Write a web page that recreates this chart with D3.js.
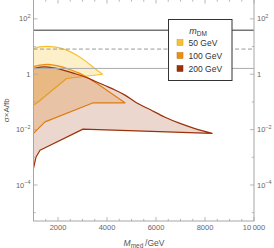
<!DOCTYPE html>
<html>
<head>
<meta charset="utf-8">
<script src="https://cdn.jsdelivr.net/npm/d3@7"></script>
<style>
  body { margin: 0; background: #fff; }
  text { font-family: "Liberation Sans", Arial, sans-serif; }
</style>
</head>
<body>
<div id="chart"></div>
<script>
// boundaries of the allowed regions: [M_med (GeV), sigma x A (fb)]
const upper50 = [[1000, 8.5], [1250, 9.7], [1550, 10.1], [1900, 9.5], [2300, 7.7], [2700, 5.3], [3100, 3.1], [3500, 1.6], [3820, 1.0]];
const lower50 = [[3820, 1.0], [2350, 0.7], [1150, 0.093], [1000, 0.077]];
const upper100 = [[1000, 1.88], [1265, 2.13], [1590, 2.26], [2000, 1.99], [2410, 1.55], [2820, 1.14], [3220, 0.75], [4735, 0.093]];
const lower100 = [[4735, 0.093], [3440, 0.093], [1470, 0.019], [1000, 0.0073]];
const upper200 = [[1000, 1.59], [1390, 1.85], [1880, 1.66], [2290, 1.35], [2690, 1.05], [3100, 0.79], [3510, 0.56], [3920, 0.39], [4330, 0.27], [4735, 0.176], [5220, 0.091], [5755, 0.053], [6370, 0.028], [6980, 0.0167], [7590, 0.0109], [8290, 0.0073]];
const lower200 = [[8290, 0.0073], [3020, 0.0104], [1265, 0.0018], [1100, 0.001], [1000, 0.0004]];

// horizontal limit lines
const limits = [39, 8.1, 1.62];

const mdmLabels = ["50 GeV", "100 GeV", "200 GeV"];
const xMajor = [2000, 4000, 6000, 8000, 10000];
const xMinor = [1500, 2500, 3000, 3500, 4500, 5000, 5500, 6500, 7000, 7500, 8500, 9000, 9500];
const yMajor = [1e2, 1, 1e-2, 1e-4];
const yMajorExp = ["2", "", "\u22122", "\u22124"];
const yMinor = [1e1, 1e-1, 1e-3, 1e-5];

const W = 274, H = 248;
const colors = ["#f6c232", "#ef8c12", "#9a3209"];
const fills = ["rgba(248,200,60,0.28)", "rgba(240,140,20,0.22)", "rgba(160,55,15,0.2)"];

const svg = d3.select("#chart").append("svg")
  .attr("width", W).attr("height", H);

const x = d3.scaleLinear().domain([1000, 10000]).range([33.5, 254]);
const y = d3.scaleLog().domain([5e-6, 500]).range([221, -0.5]);

svg.append("clipPath").attr("id", "clip")
  .append("rect")
  .attr("x", x(1000)).attr("y", y(500))
  .attr("width", x(10000) - x(1000)).attr("height", y(5e-6) - y(500));

const plot = svg.append("g").attr("clip-path", "url(#clip)");

// smooth upper curves, straight lower edges
const smooth = d3.line().x(d => x(d[0])).y(d => y(d[1])).curve(d3.curveCatmullRom);
const straight = d3.line().x(d => x(d[0])).y(d => y(d[1]));

function region(up, low) {
  return smooth(up) + straight(low).replace(/^M/, "L");
}

const regions = [[upper50, lower50], [upper100, lower100], [upper200, lower200]];
regions.forEach(function (r, i) {
  plot.append("path")
    .attr("d", region(r[0], r[1]))
    .attr("fill", fills[i])
    .attr("stroke", colors[i])
    .attr("stroke-width", 1.2)
    .attr("stroke-linejoin", "round");
});

// limit lines
plot.append("line")
  .attr("x1", x(1000)).attr("x2", x(10000))
  .attr("y1", y(limits[0])).attr("y2", y(limits[0]))
  .attr("stroke", "#333").attr("stroke-width", 1);
plot.append("line")
  .attr("x1", x(1000)).attr("x2", x(10000))
  .attr("y1", y(limits[1])).attr("y2", y(limits[1]))
  .attr("stroke", "#999").attr("stroke-width", 1)
  .attr("stroke-dasharray", "4,2.5");
plot.append("line")
  .attr("x1", x(1000)).attr("x2", x(10000))
  .attr("y1", y(limits[2])).attr("y2", y(limits[2]))
  .attr("stroke", "#aaa").attr("stroke-width", 1);

// frame
const frameColor = "#a6a6a6";
svg.append("rect")
  .attr("x", x(1000)).attr("y", y(500))
  .attr("width", x(10000) - x(1000)).attr("height", y(5e-6) - y(500))
  .attr("fill", "none").attr("stroke", frameColor).attr("stroke-width", 1);

const ticks = svg.append("g").attr("stroke", frameColor).attr("stroke-width", 0.8);
const x0 = x(1000), x1 = x(10000), y0 = y(5e-6), y1 = y(500);

function xTick(v, len) {
  ticks.append("line").attr("x1", x(v)).attr("x2", x(v)).attr("y1", y0).attr("y2", y0 - len);
  ticks.append("line").attr("x1", x(v)).attr("x2", x(v)).attr("y1", y1).attr("y2", y1 + len);
}
function yTick(v, len) {
  ticks.append("line").attr("x1", x0).attr("x2", x0 + len).attr("y1", y(v)).attr("y2", y(v));
  ticks.append("line").attr("x1", x1).attr("x2", x1 - len).attr("y1", y(v)).attr("y2", y(v));
}
xMajor.forEach(v => xTick(v, 4));
xMinor.forEach(v => xTick(v, 2.2));
yMajor.forEach(v => yTick(v, 4));
yMinor.forEach(v => yTick(v, 2.2));

// tick labels
const labelColor = "#666";
svg.append("g").selectAll("text").data(xMajor).join("text")
  .attr("x", d => x(d)).attr("y", 229.5)
  .attr("text-anchor", "middle")
  .attr("font-size", 7.5).attr("fill", labelColor)
  .text(d => d == 10000 ? "10\u2009000" : d);

function yLabel(g, v, e, px, anchor) {
  const t = g.append("text")
    .attr("x", px).attr("y", y(v) + 2.6)
    .attr("text-anchor", anchor)
    .attr("font-size", 7.5).attr("fill", labelColor);
  if (e === "") {
    t.text("1");
  } else {
    t.append("tspan").text("10");
    t.append("tspan").attr("dy", -3.5).attr("font-size", 5.5).text(e);
  }
}
const yl = svg.append("g");
yMajor.forEach(function (v, i) {
  yLabel(yl, v, yMajorExp[i], 30.5, "end");
  yLabel(yl, v, yMajorExp[i], 257, "start");
});

// axis titles
const xt = svg.append("text")
  .attr("x", 144).attr("y", 245.5)
  .attr("text-anchor", "middle")
  .attr("font-size", 8.5).attr("fill", "#555");
xt.append("tspan").attr("font-style", "italic").text("M");
xt.append("tspan").attr("font-size", 6.5).attr("dy", 2).text("med");
xt.append("tspan").attr("dy", -2).text("\u2009/GeV");

svg.append("text")
  .attr("transform", "translate(9," + ((y0 + y1) / 2) + ") rotate(-90)")
  .attr("text-anchor", "middle")
  .attr("font-size", 8).attr("fill", "#555")
  .text("\u03c3\u00d7A/fb");

// legend
const lg = svg.append("g");
lg.append("rect")
  .attr("x", 168.5).attr("y", 19.5)
  .attr("width", 63.5).attr("height", 61)
  .attr("fill", "#fff").attr("stroke", "#333").attr("stroke-width", 1);

const lt = lg.append("text")
  .attr("x", 198).attr("y", 34)
  .attr("text-anchor", "middle")
  .attr("font-size", 9).attr("fill", "#333");
lt.append("tspan").attr("font-style", "italic").text("m");
lt.append("tspan").attr("font-size", 6.5).attr("dy", 2).text("DM");

mdmLabels.forEach(function (lab, i) {
  const cy = 42.5 + i * 13;
  lg.append("rect")
    .attr("x", 177).attr("y", cy - 3)
    .attr("width", 6).attr("height", 6)
    .attr("fill", colors[i])
    .attr("stroke", d3.color(colors[i]).darker(0.6)).attr("stroke-width", 0.5);
  lg.append("text")
    .attr("x", 188.5).attr("y", cy + 3)
    .attr("font-size", 8.5).attr("fill", "#333")
    .text(lab);
});
</script>
</body>
</html>
